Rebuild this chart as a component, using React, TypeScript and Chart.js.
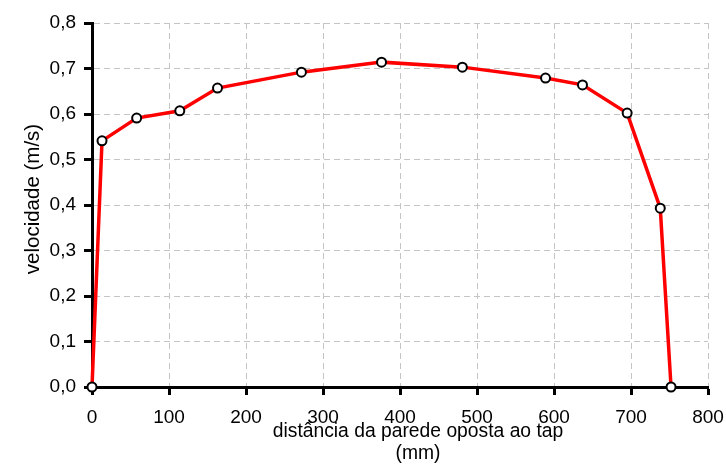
import React, { useEffect, useRef } from "react";
import { Chart, registerables } from "chart.js";

Chart.register(...registerables);

const distances = [0, 13, 58, 114, 163, 272, 376, 481, 589, 637, 695, 738, 752];
const velocities = [0, 0.541, 0.591, 0.607, 0.657, 0.692, 0.714, 0.703, 0.679, 0.664, 0.602, 0.393, 0];
const xTitle = ["distância da parede oposta ao tap", "(mm)"];
const yTitle = "velocidade (m/s)";

const FAMILY = "'Liberation Sans', Arial, sans-serif";

const titlePlugin = {
  id: "axisTitles",
  afterDraw(chart: any) {
    const { ctx, chartArea } = chart;
    ctx.save();
    ctx.fillStyle = "#000";
    ctx.textAlign = "center";
    ctx.textBaseline = "middle";
    ctx.font = `19.3px ${FAMILY}`;
    const cx = (chartArea.left + chartArea.right) / 2 + 18;
    ctx.fillText(xTitle[0], cx, chartArea.bottom + 45);
    ctx.fillText(xTitle[1], cx, chartArea.bottom + 67);
    ctx.translate(33, (chartArea.top + chartArea.bottom) / 2 - 6);
    ctx.rotate(-Math.PI / 2);
    ctx.font = `20.5px ${FAMILY}`;
    ctx.fillText(yTitle, 0, 0);
    ctx.restore();
  },
};

export default function App() {
  const ref = useRef<HTMLCanvasElement | null>(null);
  useEffect(() => {
    if (!ref.current) return;
    const font = { family: FAMILY, size: 19 };
    const chart = new Chart(ref.current, {
      type: "line",
      data: {
        datasets: [
          {
            data: distances.map((d, i) => ({ x: d, y: velocities[i] })),
            borderColor: "#ff0000",
            borderWidth: 3.5,
            pointBackgroundColor: "#ffffff",
            pointBorderColor: "#000000",
            pointBorderWidth: 2,
            pointRadius: 4.5,
            tension: 0,
            clip: 8,
          },
        ],
      },
      plugins: [titlePlugin],
      options: {
        animation: false,
        responsive: false,
        maintainAspectRatio: false,
        layout: { padding: { top: 23, right: 18, left: 0, bottom: 0 } },
        plugins: { legend: { display: false }, tooltip: { enabled: false } },
        scales: {
          x: {
            type: "linear",
            min: 0,
            max: 800,
            afterFit: (s: any) => {
              s.height = 78;
              s.paddingRight = 0;
              s.paddingLeft = 0;
            },
            ticks: { stepSize: 100, color: "#000", font, padding: 11, maxRotation: 0 },
            grid: { color: "#c4c4c4", lineWidth: 1, tickColor: "#000", tickWidth: 3, tickLength: 8 },
            border: { color: "#000", width: 3, dash: [6, 4] },
            title: { display: false },
          },
          y: {
            min: 0,
            max: 0.8,
            afterFit: (s: any) => {
              s.width = 92;
              s.paddingTop = 0;
              s.paddingBottom = 0;
            },
            ticks: {
              stepSize: 0.1,
              color: "#000",
              font,
              padding: 8,
              callback: (v: any) => Number(v).toFixed(1).replace(".", ","),
            },
            grid: { color: "#c4c4c4", lineWidth: 1, tickColor: "#000", tickWidth: 3, tickLength: 8 },
            border: { color: "#000", width: 3, dash: [6, 4] },
            title: { display: false },
          },
        },
      },
    });
    return () => chart.destroy();
  }, []);
  return (
    <div style={{ position: "fixed", left: 0, top: 0, width: 726, height: 465, background: "#fff" }}>
      <canvas ref={ref} width={726} height={465} />
    </div>
  );
}
